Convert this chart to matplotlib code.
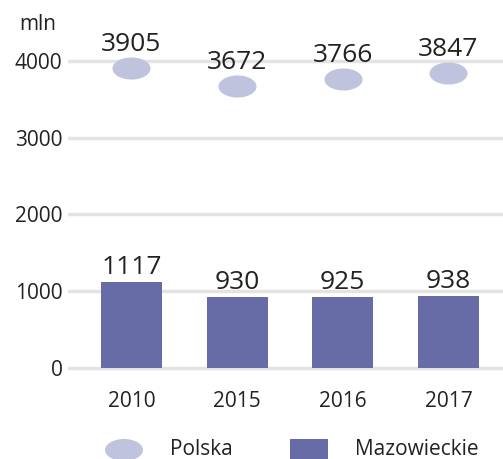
import matplotlib
matplotlib.use("Agg")
import matplotlib.pyplot as plt
from matplotlib.path import Path
from matplotlib.transforms import Affine2D
from matplotlib.patches import Ellipse, Rectangle

years = ["2010", "2015", "2016", "2017"]
polska = [3905, 3672, 3766, 3847]
mazowieckie = [1117, 930, 925, 938]
yticks = [0, 1000, 2000, 3000, 4000]

plt.rcParams['font.family'] = ['Open Sans', 'DejaVu Sans']
BAR = '#676ca6'
ELL = '#c0c3de'
TXT = '#222222'
GRID = '#e3e3e3'

W, H = 503, 459
fig = plt.figure(figsize=(W/100, H/100), dpi=100)
ax = fig.add_axes([68/W, (H-380)/H, 435/W, 370/H])

x = list(range(len(years)))
ax.set_xlim(-0.6, 3.516)
ax.set_ylim(-156.4, 4664.5)

ax.bar(x, mazowieckie, width=0.577, color=BAR, zorder=3)

ell_path = Path.unit_circle().transformed(Affine2D().scale(1.0, 0.58))
ax.scatter(x, polska, marker=ell_path, s=27.4**2, color=ELL, linewidths=0, zorder=4)

for xi, v in zip(x, mazowieckie):
    ax.annotate(str(v), (xi, v), xytext=(0, 1.5), textcoords='offset points',
                ha='center', va='bottom', fontsize=19, color=TXT)
for xi, v in zip(x, polska):
    ax.annotate(str(v), (xi, v), xytext=(0, 8), textcoords='offset points',
                ha='center', va='bottom', fontsize=19, color=TXT)

ax.set_yticks(yticks)
ax.set_yticklabels([str(t) for t in yticks], fontsize=15, color=TXT)
ax.set_xticks(x)
ax.set_xticklabels(years, fontsize=15, color=TXT)
ax.tick_params(axis='both', length=0)
ax.tick_params(axis='y', pad=4)
ax.tick_params(axis='x', pad=8)
ax.grid(axis='y', color=GRID, linewidth=2.5, zorder=0)
ax.set_axisbelow(True)
for s in ax.spines.values():
    s.set_visible(False)

fig.text(38/W, 1 - 30/H, "mln", ha='center', va='baseline', fontsize=15, color=TXT)

# legend
fig.add_artist(Ellipse((124/W, 1 - 450/H), 38/W, 22/H, transform=fig.transFigure,
                       color=ELL, linewidth=0))
fig.text(170/W, 1 - 455/H, "Polska", ha='left', va='baseline', fontsize=15, color=TXT)
fig.add_artist(Rectangle((290/W, 0), 38/W, 20/H, transform=fig.transFigure,
                         color=BAR, linewidth=0))
fig.text(355/W, 1 - 455/H, "Mazowieckie", ha='left', va='baseline', fontsize=15, color=TXT)

fig.savefig("out.png", dpi=100)
